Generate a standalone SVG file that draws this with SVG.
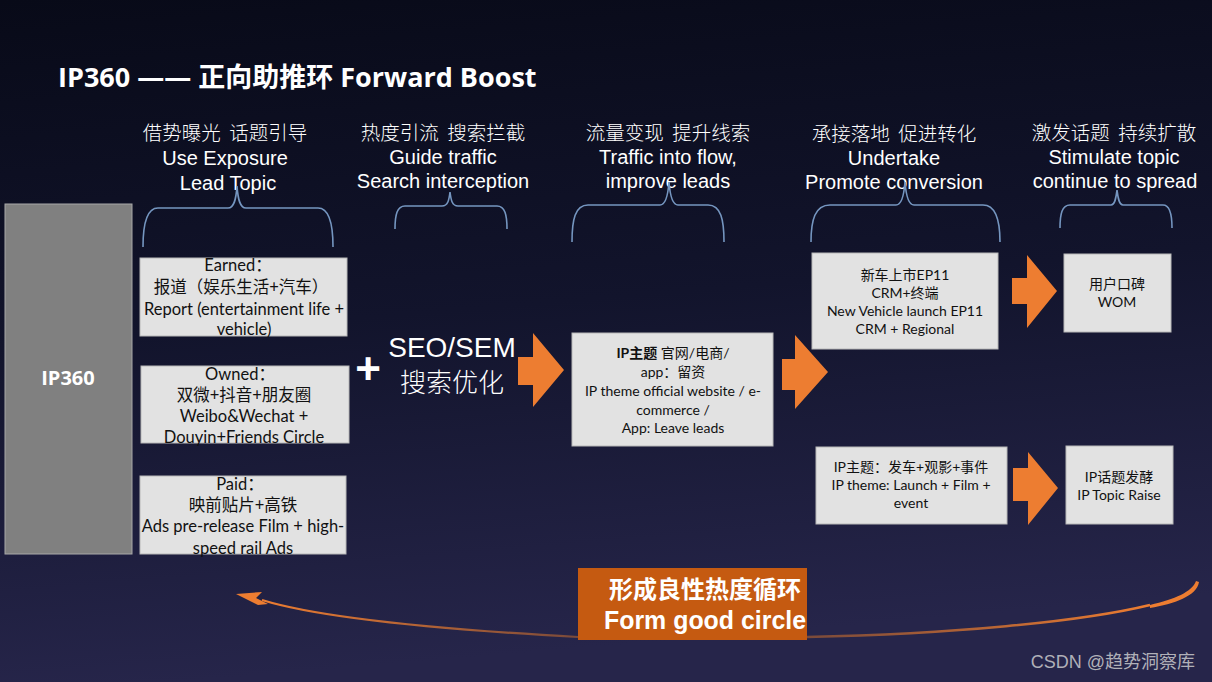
<svg xmlns="http://www.w3.org/2000/svg" width="1212" height="682" viewBox="0 0 1212 682">
<defs>
<linearGradient id="bg" x1="0" y1="0" x2="0.15" y2="1">
<stop offset="0" stop-color="#080a18"/>
<stop offset="0.5" stop-color="#12142c"/>
<stop offset="1" stop-color="#26254a"/>
</linearGradient>
<linearGradient id="curveL" x1="0" y1="0" x2="1" y2="0">
<stop offset="0" stop-color="#ed7d31"/>
<stop offset="1" stop-color="#7a4a3a"/>
</linearGradient>
<linearGradient id="curveR" x1="0" y1="0" x2="1" y2="0">
<stop offset="0" stop-color="#7a4a3a"/>
<stop offset="1" stop-color="#ed7d31"/>
</linearGradient>
<style>
.hdr{font-family:"Liberation Sans","Noto Sans CJK SC",sans-serif;font-size:20px;fill:#ffffff;text-anchor:middle}
.hcn{font-family:"Noto Sans CJK SC",sans-serif;font-size:19.5px;font-weight:300;fill:#ffffff;text-anchor:middle;white-space:pre}
.box{fill:#e2e2e2;stroke:#b8b8b8;stroke-width:1}
.bt{font-family:Lato,"Noto Sans CJK SC",sans-serif;font-size:16.5px;fill:#111111;text-anchor:middle}
.st{font-family:Lato,"Noto Sans CJK SC",sans-serif;font-size:14px;fill:#111111;text-anchor:middle}
.brace{fill:none;stroke:#7596c0;stroke-width:1.6}
.arr{fill:#ed7d31}
</style>
</defs>
<rect x="0" y="0" width="1212" height="682" fill="url(#bg)"/>

<text x="58" y="87" font-family="'Open Sans','Noto Sans CJK SC',sans-serif" font-size="27" font-weight="bold" fill="#ffffff">IP360 —— 正向助推环 Forward Boost</text>

<g id="headers">
<text class="hcn" x="225" y="140" xml:space="preserve">借势曝光  话题引导</text>
<text class="hdr" x="225" y="165">Use Exposure</text>
<text class="hdr" x="228" y="190">Lead Topic</text>
<text class="hcn" x="443" y="140" xml:space="preserve">热度引流  搜索拦截</text>
<text class="hdr" x="443" y="164">Guide traffic</text>
<text class="hdr" x="443" y="188">Search interception</text>
<text class="hcn" x="668" y="140" xml:space="preserve">流量变现  提升线索</text>
<text class="hdr" x="668" y="164">Traffic into flow,</text>
<text class="hdr" x="668" y="188">improve leads</text>
<text class="hcn" x="894" y="141" xml:space="preserve">承接落地  促进转化</text>
<text class="hdr" x="894" y="165">Undertake</text>
<text class="hdr" x="894" y="189">Promote conversion</text>
<text class="hcn" x="1114" y="140" xml:space="preserve">激发话题  持续扩散</text>
<text class="hdr" x="1114" y="164">Stimulate topic</text>
<text class="hdr" x="1115" y="188">continue to spread</text>
</g>

<g id="braces">
<path class="brace" d="M143,247 C143,225 146,208 158,208 L228,208 C234,208 236,200 237,186 C238,200 240,208 246,208 L318,208 C330,208 333,225 333,247"/>
<path class="brace" d="M395,229 C395,215 397,206 405,206 L442,206 C448,206 449,200 450,192 C451,200 452,206 458,206 L497,206 C505,206 507,215 507,229"/>
<path class="brace" d="M572,242 C572,220 575,205 588,205 L660,205 C666,205 668,195 669,182 C670,195 672,205 678,205 L708,205 C721,205 724,220 724,242"/>
<path class="brace" d="M811,242 C811,220 815,205 830,205 L896,205 C902,205 904,195 905,182 C906,195 908,205 914,205 L983,205 C996,205 1000,220 1000,242"/>
<path class="brace" d="M1060,228 C1060,214 1062,205 1070,205 L1111,205 C1115,205 1116,198 1117,190 C1118,198 1119,205 1123,205 L1163,205 C1170,205 1172,214 1172,228"/>
</g>

<g id="ip360">
<rect x="5" y="204" width="127" height="350" fill="#808080" stroke="#a8a8a8" stroke-width="1"/>
<text x="68" y="385" font-family="'Open Sans',sans-serif" font-size="20" font-weight="bold" fill="#ffffff" text-anchor="middle">IP360</text>
</g>

<g id="earned">
<rect class="box" x="140" y="258" width="207" height="78"/>
<text class="bt" x="238" y="271">Earned：</text>
<text class="bt" x="241" y="293">报道（娱乐生活+汽车）</text>
<text class="bt" x="244" y="315">Report (entertainment life +</text>
<text class="bt" x="244" y="335">vehicle)</text>
</g>

<g id="owned">
<rect class="box" x="141" y="366" width="208" height="77"/>
<text class="bt" x="240" y="380">Owned：</text>
<text class="bt" x="244" y="401">双微+抖音+朋友圈</text>
<text class="bt" x="244" y="422">Weibo&amp;Wechat +</text>
<text class="bt" x="244" y="443">Douyin+Friends Circle</text>
</g>

<g id="paid">
<rect class="box" x="140" y="476" width="206" height="78"/>
<text class="bt" x="240" y="490">Paid：</text>
<text class="bt" x="243" y="511">映前贴片+高铁</text>
<text class="bt" x="243" y="532">Ads pre-release Film + high-</text>
<text class="bt" x="243" y="554">speed rail Ads</text>
</g>

<g id="seo">
<text x="368" y="384" font-family="'Liberation Sans',sans-serif" font-size="44" font-weight="bold" fill="#ffffff" text-anchor="middle">+</text>
<text x="452" y="357" font-family="'Liberation Sans',sans-serif" font-size="28" fill="#ffffff" text-anchor="middle">SEO/SEM</text>
<text x="452" y="392" font-family="'Noto Sans CJK SC',sans-serif" font-size="26" font-weight="300" fill="#ffffff" text-anchor="middle">搜索优化</text>
</g>

<g id="landing">
<rect class="box" x="572" y="333" width="201" height="113"/>
<text class="st" x="673" y="358"><tspan font-weight="bold">IP主题</tspan> 官网/电商/</text>
<text class="st" x="673" y="377">app：留资</text>
<text class="st" x="673" y="396">IP theme official website / e-</text>
<text class="st" x="673" y="415">commerce /</text>
<text class="st" x="673" y="433">App: Leave leads</text>
</g>

<g id="newcar">
<rect class="box" x="812" y="253" width="186" height="96"/>
<text class="st" x="905" y="280">新车上市EP11</text>
<text class="st" x="905" y="298">CRM+终端</text>
<text class="st" x="905" y="316">New Vehicle launch EP11</text>
<text class="st" x="905" y="334">CRM + Regional</text>
</g>

<g id="wom">
<rect class="box" x="1064" y="254" width="107" height="78"/>
<text class="st" x="1117" y="289">用户口碑</text>
<text class="st" x="1117" y="307">WOM</text>
</g>

<g id="iptheme">
<rect class="box" x="816" y="447" width="191" height="77"/>
<text class="st" x="911" y="472">IP主题：发车+观影+事件</text>
<text class="st" x="911" y="490">IP theme: Launch + Film +</text>
<text class="st" x="911" y="508">event</text>
</g>

<g id="topicraise">
<rect class="box" x="1066" y="446" width="107" height="78"/>
<text class="st" x="1119" y="482">IP话题发酵</text>
<text class="st" x="1119" y="500">IP Topic Raise</text>
</g>

<g id="connectors">
<polygon class="arr" points="518,357 533,357 533,333 564,370 533,407 533,385 518,385"/>
<polygon class="arr" points="782,359 795,359 795,335 828,372 795,409 795,390 782,390"/>
<polygon class="arr" points="1012,278 1027,278 1027,255 1057,291 1027,328 1027,304 1012,304"/>
<polygon class="arr" points="1013,468 1028,468 1028,452 1058,488 1028,525 1028,501 1013,501"/>
<path d="M578,637 C450,630 320,618 262,600" fill="none" stroke="url(#curveL)" stroke-width="2.2"/>
<polygon class="arr" points="236,594 262,592 256,598 268,604 258,605"/>
<path d="M807,637 C950,634 1080,622 1150,605" fill="none" stroke="url(#curveR)" stroke-width="2.5"/>
<path d="M1150,605 C1175,599 1192,592 1196,581 L1199,582 C1197,596 1174,604 1150,608 Z" fill="#ed7d31"/>
</g>

<g id="circle">
<rect x="578" y="568" width="229" height="72" fill="#c55a11"/>
<text x="705" y="598" font-family="'Noto Sans CJK SC',sans-serif" font-size="24" font-weight="bold" fill="#ffffff" text-anchor="middle">形成良性热度循环</text>
<text x="705" y="629" font-family="'Liberation Sans',sans-serif" font-size="25" font-weight="bold" fill="#ffffff" text-anchor="middle" textLength="202" lengthAdjust="spacingAndGlyphs">Form good circle</text>
</g>

<text x="1195" y="668" font-family="'Liberation Sans','Noto Sans CJK SC',sans-serif" font-size="18" fill="#b0b0b8" text-anchor="end">CSDN @趋势洞察库</text>
</svg>
